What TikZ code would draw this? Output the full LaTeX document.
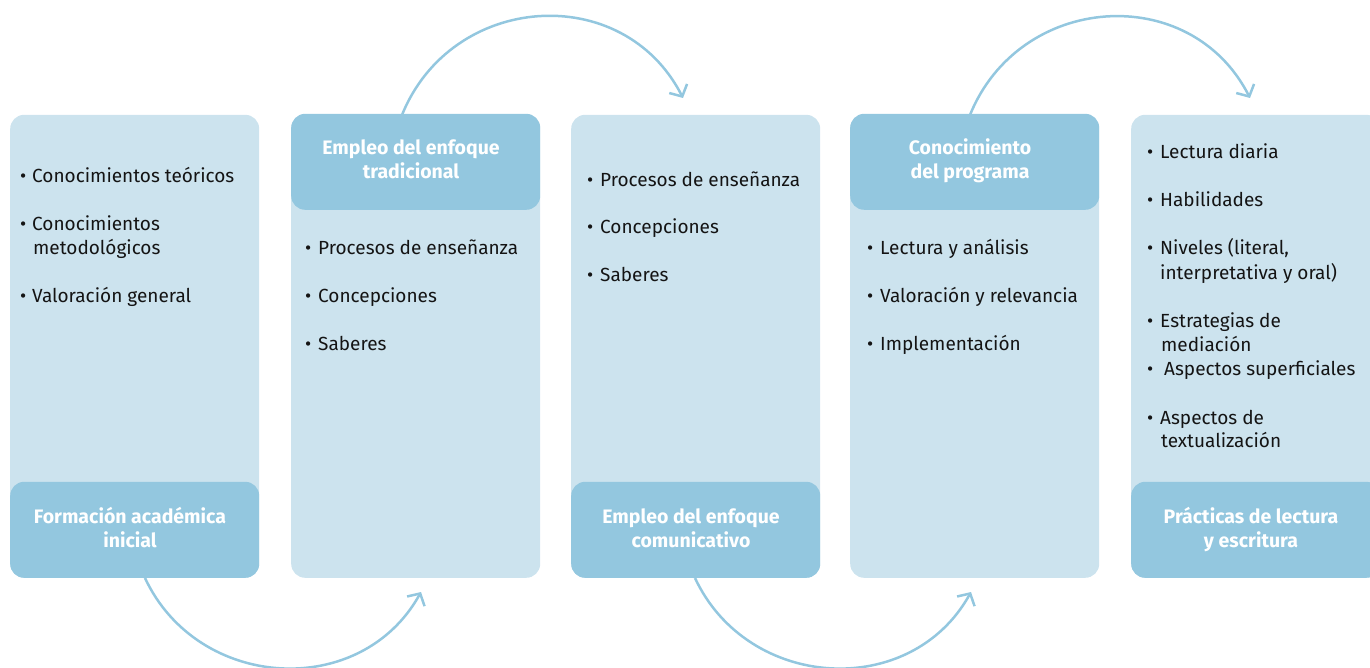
\documentclass[tikz,border=0pt]{standalone}
\usepackage{fontspec}
\setmainfont{Fira Sans}
\usetikzlibrary{arrows.meta}
\definecolor{lightb}{HTML}{CCE3EE}
\definecolor{darkb}{HTML}{93C7DF}
\definecolor{txt}{HTML}{141414}
\begin{document}
\begin{tikzpicture}[x=1pt,y=1pt,
  panel/.style={fill=lightb, rounded corners=14pt, inner sep=0pt, minimum width=249pt, minimum height=463pt, anchor=south west},
  head/.style={fill=darkb, rounded corners=14pt, inner sep=0pt, minimum width=249pt, minimum height=96pt, anchor=south west},
  ht/.style={text=white, font=\fontsize{19.5}{24}\selectfont\bfseries, anchor=base, inner sep=0pt},
  it/.style={text=txt, font=\fontsize{19}{24}\selectfont, anchor=base west, inner sep=0pt},
  flow/.style={draw=darkb, line width=2.5pt, -{Straight Barb[length=9pt,width=20pt]}}]
\useasboundingbox (0,0) rectangle (1370,667);
% panels
\node[panel] (p1) at (10,89) {};
\node[panel] (p2) at (291,89) {};
\node[panel] (p3) at (571,89) {};
\node[panel] (p4) at (850,89) {};
\node[panel] (p5) at (1131,89) {};
% headers
\node[head] (h1) at (10,89) {};
\node[head] (h2) at (291,457) {};
\node[head] (h3) at (571,89) {};
\node[head] (h4) at (850,457) {};
\node[head] (h5) at (1131,89) {};
% header texts
\node[ht] (h1a) at (130,144) {Formación académica};
\node[ht] (h1b) at (130,120) {inicial};
\node[ht] (h2a) at (411,512) {Empleo del enfoque};
\node[ht] (h2b) at (411,488) {tradicional};
\node[ht] (h3a) at (691,144) {Empleo del enfoque};
\node[ht] (h3b) at (691,120) {comunicativo};
\node[ht] (h4a) at (970,512) {Conocimiento};
\node[ht] (h4b) at (970,488) {del programa};
\node[ht] (h5a) at (1251,144) {Prácticas de lectura};
\node[ht] (h5b) at (1251,120) {y escritura};
% column 1
\node[it] (b11) at (20,484) {•};
\node[it] (t11) at (32,484) {Conocimientos teóricos};
\node[it] (b12) at (20,436) {•};
\node[it] (t12) at (32,436) {Conocimientos};
\node[it] (t12b) at (33,412) {metodológicos};
\node[it] (b13) at (20,364) {•};
\node[it] (t13) at (32,364) {Valoración general};
% column 2
\node[it] (b21) at (305,412) {•};
\node[it] (t21) at (318,412) {Procesos de enseñanza};
\node[it] (b22) at (305,364) {•};
\node[it] (t22) at (318,364) {Concepciones};
\node[it] (b23) at (305,316) {•};
\node[it] (t23) at (318,316) {Saberes};
% column 3
\node[it] (b31) at (587,480) {•};
\node[it] (t31) at (600,480) {Procesos de enseñanza};
\node[it] (b32) at (587,433) {•};
\node[it] (t32) at (600,433) {Concepciones};
\node[it] (b33) at (587,385) {•};
\node[it] (t33) at (600,385) {Saberes};
% column 4
\node[it] (b41) at (867,412) {•};
\node[it] (t41) at (880,412) {Lectura y análisis};
\node[it] (b42) at (867,364) {•};
\node[it] (t42) at (880,364) {Valoración y relevancia};
\node[it] (b43) at (867,316) {•};
\node[it] (t43) at (880,316) {Implementación};
% column 5
\node[it] (b51) at (1147,508) {•};
\node[it] (t51) at (1160,508) {Lectura diaria};
\node[it] (b52) at (1147,460) {•};
\node[it] (t52) at (1160,460) {Habilidades};
\node[it] (b53) at (1147,412) {•};
\node[it] (t53) at (1160,412) {Niveles (literal,};
\node[it] (t53b) at (1160,387) {interpretativa y oral)};
\node[it] (b54) at (1147,339) {•};
\node[it] (t54) at (1160,339) {Estrategias de};
\node[it] (t54b) at (1161,315) {mediación};
\node[it] (b55) at (1147,291) {•};
\node[it] (t55) at (1164,291) {Aspectos superficiales};
\node[it] (b56) at (1147,242) {•};
\node[it] (t56) at (1160,242) {Aspectos de};
\node[it] (t56b) at (1161,219) {textualización};
% arrows
\coordinate (a1s) at (402,552);
\coordinate (a1e) at (683,569);
\coordinate (a2s) at (970,552);
\coordinate (a2e) at (1250,569);
\coordinate (b1s) at (145,89);
\coordinate (b1e) at (421,75);
\coordinate (b2s) at (695,89);
\coordinate (b2e) at (971,75);
\draw[flow] (a1s) to[out=68,in=117,looseness=1.2] (a1e);
\draw[flow] (a2s) to[out=68,in=117,looseness=1.2] (a2e);
\draw[flow] (b1s) to[out=-65,in=-119,looseness=1.15] (b1e);
\draw[flow] (b2s) to[out=-65,in=-119,looseness=1.15] (b2e);
\end{tikzpicture}
\end{document}
